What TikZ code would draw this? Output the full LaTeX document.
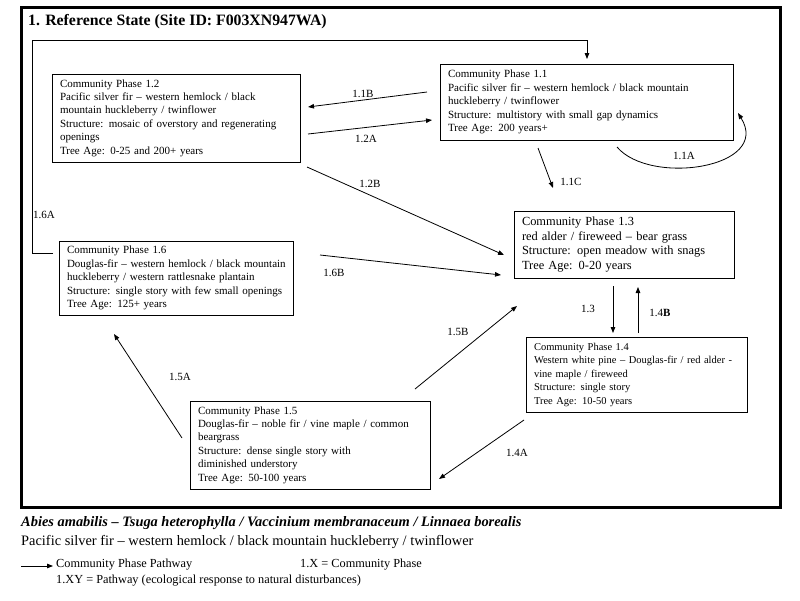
\documentclass[tikz,border=0pt]{standalone}
\usepackage{fontspec}
\setmainfont{Liberation Serif}
\usetikzlibrary{arrows.meta}
\begin{document}
\begin{tikzpicture}[x=1pt,y=-1pt,
  box/.style={draw, line width=0.9pt, align=left, inner xsep=8pt, inner ysep=2pt, font=\fontsize{11}{13.4}\selectfont},
  arr/.style={line width=0.8pt, -{Triangle[length=6pt,width=4.5pt]}},
  lbl/.style={font=\fontsize{11}{13}\selectfont, inner sep=0pt},
  txt/.style={anchor=west, inner sep=0pt}]
\useasboundingbox (0,0) rectangle (800,600);
\fill[white] (0,0) rectangle (800,600);
\draw[line width=3pt] (21,7) rectangle (780,507);
\node[txt, font=\fontsize{15.8}{18}\selectfont\bfseries] (title) at (28,22) {1. Reference State (Site ID: F003XN947WA)};

% community phase boxes
\node[box, text width=232pt, minimum height=88pt] (p12) at (176,118) {Community Phase 1.2\\Pacific silver fir – western hemlock / black\\mountain huckleberry / twinflower\\Structure: mosaic of overstory and regenerating\\openings\\Tree Age: 0-25 and 200+ years};
\node[box, text width=277pt, minimum height=76pt] (p11) at (586.5,102) {Community Phase 1.1\\Pacific silver fir – western hemlock / black mountain\\huckleberry / twinflower\\Structure: multistory with small gap dynamics\\Tree Age: 200 years+};
\node[box, text width=218pt, minimum height=74pt] (p16) at (176,278) {Community Phase 1.6\\\mbox{Douglas-fir – western hemlock / black mountain}\\huckleberry / western rattlesnake plantain\\\mbox{Structure: single story with few small openings}\\Tree Age: 125+ years};
\node[box, text width=204pt, minimum height=67pt, font=\fontsize{12.4}{14.4}\selectfont] (p13) at (624,244.5) {Community Phase 1.3\\red alder / fireweed – bear grass\\Structure: open meadow with snags\\Tree Age: 0-20 years};
\node[box, text width=205pt, minimum height=75pt, font=\fontsize{10.5}{13.5}\selectfont] (p14) at (636.5,374.5) {Community Phase 1.4\\\mbox{Western white pine – Douglas-fir / red alder -}\\vine maple / fireweed\\Structure: single story\\Tree Age: 10-50 years};
\node[box, text width=224pt, minimum height=88pt] (p15) at (310,445) {Community Phase 1.5\\Douglas-fir – noble fir / vine maple / common\\beargrass\\Structure: dense single story with\\diminished understory\\Tree Age: 50-100 years};

% connector end points
\coordinate (a11b) at (427,92);  \coordinate (b11b) at (308,107);
\coordinate (a12a) at (308,134); \coordinate (b12a) at (432,120);
\coordinate (a11c) at (538,148); \coordinate (b11c) at (553,188);
\coordinate (a11a) at (617,147); \coordinate (b11a) at (738,113);
\coordinate (a12b) at (307,167); \coordinate (b12b) at (504,255);
\coordinate (a16b) at (320,255); \coordinate (b16b) at (501,275);
\coordinate (a13) at (613,286);  \coordinate (b13) at (613,333);
\coordinate (a14b) at (638,333); \coordinate (b14b) at (638,287);
\coordinate (a15b) at (415,389); \coordinate (b15b) at (517,306);
\coordinate (a15a) at (182,438); \coordinate (b15a) at (114,334);
\coordinate (a14a) at (524,420); \coordinate (b14a) at (439,479);
\coordinate (a16a) at (53,253);  \coordinate (b16a) at (587,59);

\draw[arr] (a11b) -- (b11b);
\draw[arr] (a12a) -- (b12a);
\draw[arr] (a11c) -- (b11c);
\draw[arr] (a11a) .. controls (650,186) and (772,168) .. (b11a);
\draw[arr] (a12b) -- (b12b);
\draw[arr] (a16b) -- (b16b);
\draw[arr] (a13) -- (b13);
\draw[arr] (a14b) -- (b14b);
\draw[arr] (a15b) -- (b15b);
\draw[arr] (a15a) -- (b15a);
\draw[arr] (a14a) -- (b14a);
\draw[arr] (a16a) -- (32,253) -- (32,40) -- (587,40) -- (b16a);

% pathway labels
\node[lbl] (l11b) at (363,94) {1.1B};
\node[lbl] (l12a) at (366,139) {1.2A};
\node[lbl] (l11c) at (571,182) {1.1C};
\node[lbl] (l11a) at (684,156) {1.1A};
\node[lbl] (l12b) at (370,184) {1.2B};
\node[lbl] (l16b) at (334,273) {1.6B};
\node[lbl] (l13) at (588,309) {1.3};
\node[lbl] (l14b) at (660,313) {1.4\textbf{B}};
\node[lbl] (l15b) at (458,332) {1.5B};
\node[lbl] (l15a) at (180,377) {1.5A};
\node[lbl] (l14a) at (517,453) {1.4A};
\node[lbl] (l16a) at (44,215) {1.6A};

% bottom text and legend
\node[txt, font=\fontsize{14.4}{16}\selectfont\bfseries\itshape] (sci) at (21,523) {Abies amabilis – Tsuga heterophylla / Vaccinium membranaceum / Linnaea borealis};
\node[txt, font=\fontsize{14.4}{16}\selectfont] (com) at (21,542) {Pacific silver fir – western hemlock / black mountain huckleberry / twinflower};
\coordinate (lga) at (21,566);
\coordinate (lgb) at (53,566);
\draw[arr] (lga) -- (lgb);
\node[txt, font=\fontsize{12.3}{14}\selectfont] (leg1) at (56,565) {Community Phase Pathway};
\node[txt, font=\fontsize{12.3}{14}\selectfont] (leg2) at (300,565) {1.X = Community Phase};
\node[txt, font=\fontsize{12.3}{14}\selectfont] (leg3) at (56,581) {1.XY = Pathway (ecological response to natural disturbances)};
\end{tikzpicture}
\end{document}
